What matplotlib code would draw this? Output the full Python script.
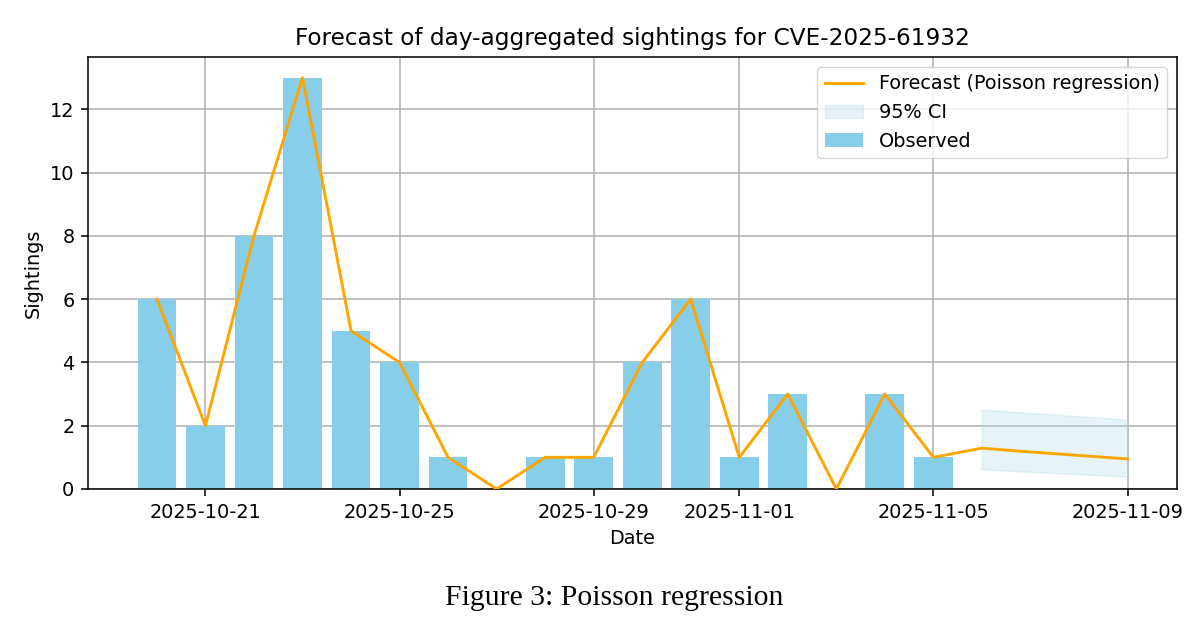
import numpy as np
import pandas as pd
import matplotlib
matplotlib.use('Agg')
import matplotlib.pyplot as plt
import matplotlib.dates as mdates

# observed daily sightings
obs_dates = pd.date_range("2025-10-20", "2025-11-05", freq="D")
obs_counts = [6, 2, 8, 13, 5, 4, 1, 0, 1, 1, 4, 6, 1, 3, 0, 3, 1]

# forecast horizon
fc_dates = pd.date_range("2025-11-06", "2025-11-09", freq="D")
fc_mean = [1.29, 1.17, 1.06, 0.95]
fc_lower = [0.62, 0.54, 0.47, 0.39]
fc_upper = [2.51, 2.40, 2.30, 2.19]

tick_dates = pd.to_datetime(["2025-10-21", "2025-10-25", "2025-10-29",
                             "2025-11-01", "2025-11-05", "2025-11-09"])

S = 1.39  # figure was scaled up when placed in the page

plt.rcParams.update({
    'axes.linewidth': 0.8 * S,
    'grid.linewidth': 0.8 * S,
    'xtick.major.width': 0.8 * S,
    'ytick.major.width': 0.8 * S,
    'xtick.major.size': 3.5 * S,
    'ytick.major.size': 3.5 * S,
    'xtick.major.pad': 3.5 * S,
    'ytick.major.pad': 3.5 * S,
    'axes.labelpad': 4.0 * S,
})


def main():
    fig = plt.figure(figsize=(12.03, 6.28), dpi=100)
    ax = fig.add_axes([88 / 1203, 1 - 489 / 628, (1177 - 88) / 1203, (489 - 57) / 628])

    line_x = list(obs_dates) + list(fc_dates)
    line_y = list(obs_counts) + list(fc_mean)

    ax.bar(obs_dates, obs_counts, width=0.8, color='skyblue', label='Observed', zorder=2)
    ax.plot(line_x, line_y, color='orange', linewidth=1.5 * S,
            label='Forecast (Poisson regression)', zorder=3)
    ax.fill_between(fc_dates, fc_lower, fc_upper, color='lightblue', alpha=0.3,
                    label='95% CI', zorder=2)

    ax.set_xticks(tick_dates)
    ax.xaxis.set_major_formatter(mdates.DateFormatter('%Y-%m-%d'))
    ax.tick_params(labelsize=10 * S)
    ax.set_xlabel('Date', fontsize=10 * S)
    ax.set_ylabel('Sightings', fontsize=10 * S)
    ax.set_title('Forecast of day-aggregated sightings for CVE-2025-61932', fontsize=12 * S, pad=6 * S)
    ax.grid(True, zorder=0)
    ax.set_axisbelow(True)

    handles, labels = ax.get_legend_handles_labels()
    order = [labels.index('Forecast (Poisson regression)'), labels.index('95% CI'), labels.index('Observed')]
    ax.legend([handles[i] for i in order], [labels[i] for i in order], loc='upper right', fontsize=10 * S)

    fig.text(614 / 1203, 1 - 598 / 628, 'Figure 3: Poisson regression', ha='center', va='center',
             family='Liberation Serif', fontsize=21.4)

    fig.savefig('out.png', dpi=100)
    plt.close(fig)


if __name__ == "__main__":
    main()
